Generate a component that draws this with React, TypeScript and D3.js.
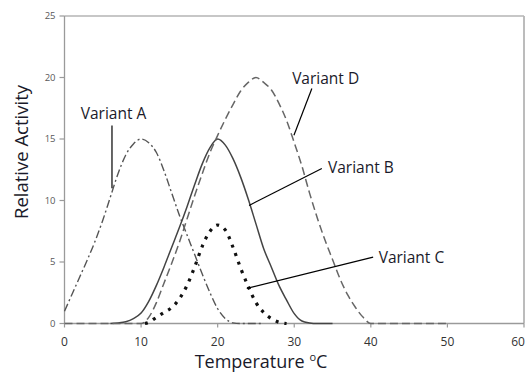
import React from "react";
import * as d3 from "d3";

// ---- data ----
const xTicks = [0, 10, 20, 30, 40, 50, 60];
const yTicks = [0, 5, 10, 15, 20, 25];

const tempA = [0, 1, 2, 3, 4, 5, 6, 7, 8, 9, 10, 11, 12, 13, 14, 15, 16, 17, 18, 19, 20, 21, 22, 23, 26];
const actA = [1.0, 2.4, 3.8, 5.2, 6.7, 8.4, 10.3, 12.2, 13.7, 14.6, 15.0, 14.7, 13.9, 12.4, 10.6, 8.8, 7.2, 5.6, 4.0, 2.5, 1.2, 0.4, 0.05, 0, 0];

const tempB = [6, 7, 8, 9, 10, 11, 12, 13, 14, 15, 16, 17, 18, 19, 20, 21, 22, 23, 24, 25, 26, 27, 28, 29, 30, 31, 32, 33, 35];
const actB = [0, 0.05, 0.15, 0.4, 0.85, 1.8, 3.1, 4.6, 6.2, 7.8, 9.5, 11.3, 13.0, 14.3, 15.0, 14.5, 13.4, 11.9, 10.1, 8.1, 6.1, 4.6, 3.1, 1.9, 0.8, 0.2, 0.05, 0, 0];

const tempC = [10.5, 11, 12, 13, 14, 15, 16, 17, 18, 19, 20, 21, 22, 23, 24, 25, 26, 27, 28, 29];
const actC = [0, 0.1, 0.5, 0.9, 1.3, 2.0, 3.1, 4.6, 6.3, 7.5, 8.0, 7.6, 6.2, 4.5, 3.0, 1.7, 0.9, 0.4, 0.1, 0];

const tempD = [0, 10, 11, 12, 13, 14, 15, 16, 17, 18, 19, 20, 21, 22, 23, 24, 25, 26, 27, 28, 29, 30, 31, 32, 33, 34, 35, 36, 37, 38, 39, 40, 50];
const actD = [0, 0, 0.5, 1.7, 3.3, 4.9, 6.6, 8.5, 10.4, 12.2, 13.9, 15.3, 16.6, 17.8, 18.9, 19.6, 20.0, 19.6, 19.0, 17.9, 16.5, 14.7, 12.8, 10.6, 8.6, 6.8, 5.2, 3.6, 2.3, 1.3, 0.5, 0, 0];

// annotation labels in data units: text centre/baseline, pointer start, pointer end
const labelNames = ["Variant A", "Variant B", "Variant C", "Variant D"];
const labelAt = [[6.4, 16.6], [38.7, 12.2], [45.3, 4.9], [34.1, 19.5]];
const pointerFrom = [[6.2, 16.1], [33.6, 12.6], [40.3, 5.4], [32.3, 19.1]];
const pointerTo = [[6.2, 11.0], [24.1, 9.6], [23.8, 2.86], [29.96, 15.3]];

const W = 529;
const H = 372;
const FONT = "'Open Sans', 'Noto Sans', sans-serif";

export default function App() {
  const x = d3.scaleLinear().domain([0, 60]).range([64.5, 524]);
  const y = d3.scaleLinear().domain([0, 25]).range([323.5, 16]);

  const line = d3
    .line<[number, number]>()
    .x((d) => x(d[0]))
    .y((d) => y(d[1]))
    .curve(d3.curveMonotoneX);

  const zip = (a: number[], b: number[]) => a.map((v, i) => [v, b[i]] as [number, number]);

  const series = [
    { pts: zip(tempA, actA), stroke: "#555", width: 1.4, dash: "8 3 2 3" },
    { pts: zip(tempB, actB), stroke: "#444", width: 1.5, dash: "" },
    { pts: zip(tempD, actD), stroke: "#666", width: 1.5, dash: "8 4" },
    { pts: zip(tempC, actC), stroke: "#111", width: 3.2, dash: "3 6" },
  ];

  const [x0, x1] = x.range();
  const [yb, yt] = y.range();

  return (
    <svg
      width={W}
      height={H}
      style={{ position: "absolute", left: 0, top: 0, background: "#fff" }}
      fontFamily={FONT}
    >
      <rect x={0} y={0} width={W} height={H} fill="#fff" />
      {/* plot frame */}
      <line x1={x0} y1={yt} x2={x1} y2={yt} stroke="#b5b5b5" strokeWidth={1.5} />
      <line x1={x1} y1={yt} x2={x1} y2={yb} stroke="#b5b5b5" strokeWidth={1.8} />
      {/* y axis */}
      <line x1={x0} y1={yt} x2={x0} y2={yb} stroke="#9a9a9a" strokeWidth={1.3} />
      {yTicks.map((t) => (
        <g key={"y" + t}>
          <line x1={x0 - 5} x2={x0} y1={y(t)} y2={y(t)} stroke="#9a9a9a" strokeWidth={1.2} />
          <text x={x0 - 9} y={y(t)} dy="0.35em" textAnchor="end" fontSize={9.5} fill="#595959">
            {t}
          </text>
        </g>
      ))}
      {/* x axis */}
      <line x1={x0} y1={yb} x2={x1} y2={yb} stroke="#9a9a9a" strokeWidth={1.3} />
      {xTicks.map((t) => (
        <g key={"x" + t}>
          <line x1={x(t)} x2={x(t)} y1={yb} y2={yb + 4} stroke="#9a9a9a" strokeWidth={1.2} />
          <text
            x={t === 60 ? x(t) - 6 : x(t)}
            y={yb + 22}
            textAnchor="middle"
            fontSize={12}
            fill="#333"
          >
            {t}
          </text>
        </g>
      ))}
      {/* series */}
      {series.map((s, i) => (
        <path
          key={i}
          d={line(s.pts) || ""}
          fill="none"
          stroke={s.stroke}
          strokeWidth={s.width}
          strokeDasharray={s.dash || undefined}
        />
      ))}
      {/* annotations */}
      {labelNames.map((n, i) => (
        <g key={n}>
          <line
            x1={x(pointerFrom[i][0])}
            y1={y(pointerFrom[i][1])}
            x2={x(pointerTo[i][0])}
            y2={y(pointerTo[i][1])}
            stroke="#000"
            strokeWidth={1.2}
          />
          <text
            x={x(labelAt[i][0])}
            y={y(labelAt[i][1])}
            textAnchor="middle"
            fontSize={15.5}
            fill="#1a1a2a"
          >
            {n}
          </text>
        </g>
      ))}
      {/* axis titles */}
      <text
        transform={`translate(${22},${152}) rotate(-90)`}
        textAnchor="middle"
        dy="0.35em"
        fontSize={18.5}
        fill="#1a1a2a"
      >
        Relative Activity
      </text>
      <text x={261} y={368} textAnchor="middle" fontSize={18} fill="#1a1a2a">
        Temperature{" "}
        <tspan fontSize={11} dy={-7}>
          o
        </tspan>
        <tspan dy={7}>C</tspan>
      </text>
    </svg>
  );
}
